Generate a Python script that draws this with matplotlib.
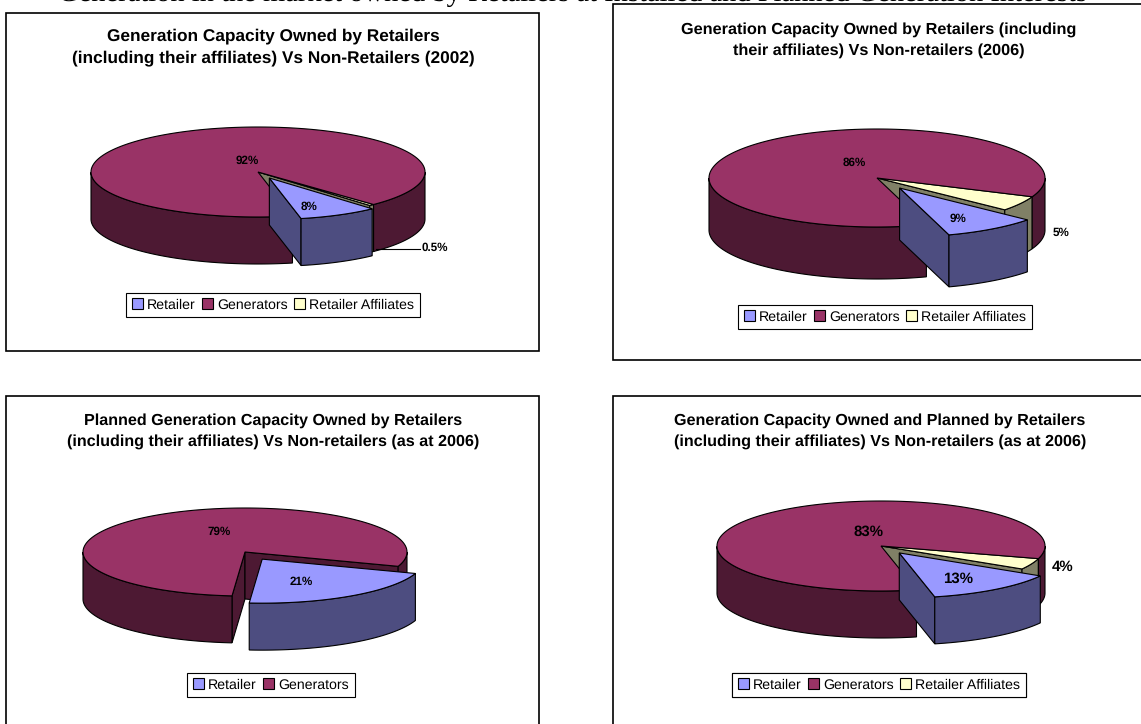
import numpy as np
import matplotlib
matplotlib.use("Agg")
import matplotlib.pyplot as plt
from matplotlib.patches import Polygon, Rectangle, Patch

plt.rcParams["font.family"] = ["Liberation Sans", "DejaVu Sans"]
plt.rcParams["text.hinting"] = "no_hinting"

COLORS = {"Retailer": "#9999ff", "Generators": "#993366", "Retailer Affiliates": "#ffffcc"}
SIDES = {"Retailer": "#4d4d80", "Generators": "#4d1933", "Retailer Affiliates": "#808066"}

names_3 = ["Retailer", "Generators", "Retailer Affiliates"]
names_2 = ["Retailer", "Generators"]

values_2002 = [8.4, 91.6, 0.5]
values_2006 = [9, 86, 5]
values_planned = [21, 79]
values_total = [13, 83, 4]

titles = [
    "Generation Capacity Owned by Retailers\n(including their affiliates) Vs Non-Retailers (2002)",
    "Generation Capacity Owned by Retailers (including\ntheir affiliates) Vs Non-retailers (2006)",
    "Planned Generation Capacity Owned by Retailers\n(including their affiliates) Vs Non-retailers (as at 2006)",
    "Generation Capacity Owned and Planned by Retailers\n(including their affiliates) Vs Non-retailers (as at 2006)",
]
heading = "Generation in the market owned by Retailers at Installed and Planned Generation Interests"

W, H = 1141, 724
fig = plt.figure(figsize=(W / 100, H / 100), dpi=100)
ax = fig.add_axes([0, 0, 1, 1])
ax.set_xlim(0, W)
ax.set_ylim(H, 0)
ax.axis("off")

zo = [10]


def add(points, fc):
    ax.add_patch(Polygon(points, fc=fc, ec="k", lw=0.8, zorder=zo[0]))
    zo[0] += 1


def arc(cx, cy, rx, ry, a0, a1):
    t = np.radians(np.linspace(a0, a1, 200))
    return np.column_stack([cx + rx * np.cos(t), cy - ry * np.sin(t)])


def draw_slice(cx, cy, rx, ry, depth, a0, a1, name, wall_a1=True):
    # a0 > a1, runs clockwise on screen
    side = SIDES[name]
    apex = np.array([cx, cy])
    down = np.array([0, depth])
    walls = [(a0, 90)]
    if wall_a1:
        walls.append((a1, -90))
    for a, sign in walls:
        if np.sin(np.radians(a + sign)) < 0:
            p = arc(cx, cy, rx, ry, a, a)[0]
            add([apex, p, p + down, apex + down], side)
    # front part of the rim only
    t = np.linspace(a0, a1, 721)
    idx = np.where(np.sin(np.radians(t)) <= 0)[0]
    if len(idx):
        for r in np.split(idx, np.where(np.diff(idx) > 1)[0] + 1):
            e = arc(cx, cy, rx, ry, t[r[0]], t[r[-1]])
            add(np.vstack([e, (e + down)[::-1]]), side)
    add(np.vstack([apex, arc(cx, cy, rx, ry, a0, a1)]), COLORS[name])


def pie3d(cx, cy, rx, ry, depth, values, names, start, explode, shrink=1.0):
    total = float(sum(values))
    spans = [v / total * 360 for v in values]
    ret0, ret1 = start, start - spans[0]
    gen0, gen1 = ret1, ret1 - spans[1]
    if len(names) > 2:
        draw_slice(cx, cy, rx, ry, depth, gen1, gen1 - spans[2], names[2])
    draw_slice(cx, cy, rx, ry, depth, gen0, gen1, names[1], wall_a1=len(names) == 2)
    mid = np.radians((ret0 + ret1) / 2)
    dx = explode * rx * np.cos(mid)
    dy = -explode * ry * np.sin(mid)
    draw_slice(cx + dx, cy + dy, rx * shrink, ry * shrink, depth, ret0, ret1, names[0])


def legend(names, x, y, size=10.2):
    handles = [Patch(fc=COLORS[n], ec="k", lw=0.8) for n in names]
    leg = ax.legend(handles, names, loc="center", bbox_to_anchor=(x, y), bbox_transform=ax.transData,
                    ncol=len(names), frameon=True, fancybox=False, edgecolor="k", framealpha=1,
                    fontsize=size, handlelength=0.75, handleheight=0.75, handletextpad=0.3,
                    columnspacing=0.45, borderpad=0.42, borderaxespad=0)
    leg.get_frame().set_linewidth(0.8)
    leg.set_zorder(500)
    ax.add_artist(leg)


def frame(x0, y0, x1, y1):
    ax.add_patch(Rectangle((x0, y0), x1 - x0, y1 - y0, fc="white", ec="k", lw=1.2, zorder=1))


frame(6, 13, 539, 351)
frame(613, 4, 1160, 360)
frame(6, 396, 539, 740)
frame(613, 396, 1160, 740)

pie3d(258, 172, 167, 45, 47, values_2002, names_3, -48, 0.15, shrink=0.92)
pie3d(877, 178, 168, 49, 52, values_2006, names_3, -40.5, 0.245)
pie3d(245, 552, 162, 44, 47, values_planned, names_2, -19, 0.194)
pie3d(881, 546, 164, 45, 47, values_total, names_3, -30.7, 0.19)

title_pos = [(273, 47, 12.4), (879, 40, 11.7), (273, 431, 11.6), (880, 431, 11.6)]
for t, (x, y, fs) in zip(titles, title_pos):
    ax.text(x, y, t, ha="center", va="center", fontsize=fs, fontweight="bold", linespacing=1.5, zorder=600)

ax.text(572, 1, heading, ha="center", va="baseline", fontsize=20.5, family="Liberation Serif", zorder=600)

small = 8.4
labels = [
    (247, 161, "92%", small), (309, 207, "8%", small), (435, 248, "0.5%", small),
    (854, 163, "86%", small), (958, 219, "9%", small), (1061, 233, "5%", small),
    (219, 532, "79%", small), (301, 582, "21%", small),
    (869, 532, "83%", 10.8), (958, 579, "13%", 10.8), (1063, 567, "4%", 10.8),
]
for x, y, s, fs in labels:
    ax.text(x, y, s, ha="center", va="center", fontsize=fs, fontweight="bold", zorder=600)
ax.plot([376, 420], [249, 249], color="k", lw=0.8, zorder=550)

legend(names_3, 273, 305)
legend(names_3, 885, 317)
legend(names_2, 271, 685)
legend(names_3, 879, 685)

fig.savefig("out.png", dpi=100)
